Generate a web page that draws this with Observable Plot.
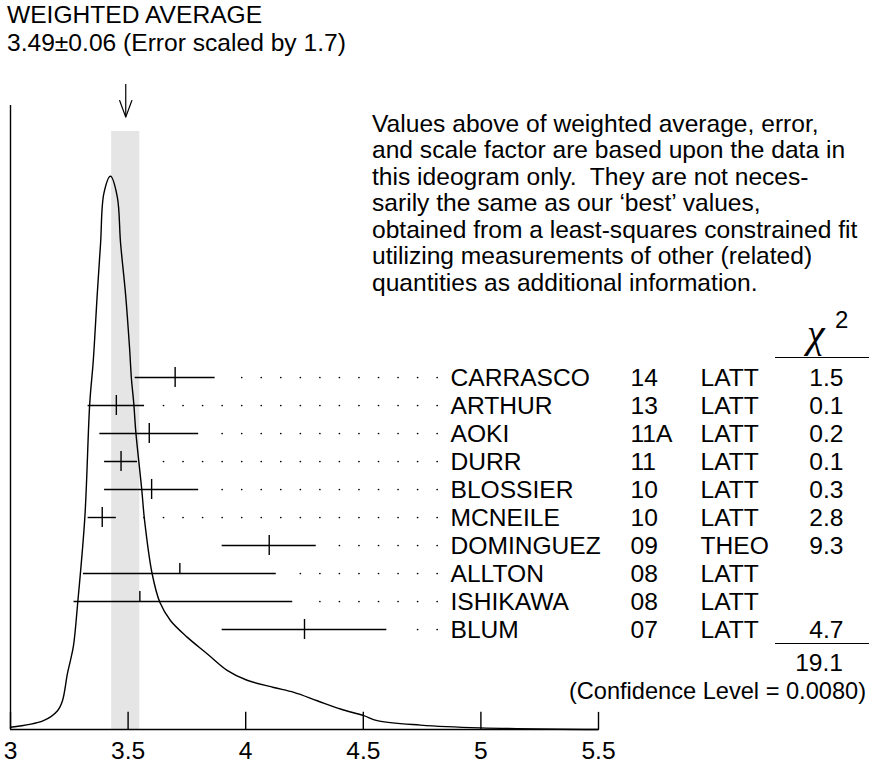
<!DOCTYPE html>
<html><head><meta charset="utf-8">
<script src="https://cdn.jsdelivr.net/npm/d3@7"></script>
<script src="https://cdn.jsdelivr.net/npm/@observablehq/plot@0.6"></script>
<style>
body{margin:0;background:#fff;}
#wrap{position:relative;width:869px;height:768px;font-family:"Liberation Sans",Arial,Helvetica,sans-serif;color:#000;overflow:hidden;}
#wrap svg{position:absolute;left:0;top:0;}
.t{position:absolute;font-size:24.6px;white-space:pre;}
.hl{position:absolute;height:0;border-top:1.4px solid #000;}
</style></head><body><div id="wrap"></div>
<script>
// ---- data ----
const names  = ["CARRASCO","ARTHUR","AOKI","DURR","BLOSSIER","MCNEILE","DOMINGUEZ","ALLTON","ISHIKAWA","BLUM"];
const years  = ["14","13","11A","11","10","10","09","08","08","07"];
const types  = ["LATT","LATT","LATT","LATT","LATT","LATT","THEO","LATT","LATT","LATT"];
const values = [3.70, 3.45, 3.59, 3.47, 3.60, 3.39, 4.10, 3.72, 3.55, 4.25];
const errLow = [0.17, 0.12, 0.21, 0.07, 0.20, 0.06, 0.20, 0.41, 0.28, 0.35];
const errHigh= [0.17, 0.12, 0.21, 0.07, 0.20, 0.06, 0.20, 0.41, 0.65, 0.35];
const chi2   = [1.5, 0.1, 0.2, 0.1, 0.3, 2.8, 9.3, null, null, 4.7];
const chi2Total = "19.1";
const confidenceLevel = "0.0080";
const weightedAvg = 3.49, weightedErr = 0.06, errorScale = 1.7;
// ideogram curve (x value, relative height)
const curveX = [3.000,3.140,3.200,3.221,3.242,3.255,3.268,3.286,3.316,3.337,3.352,3.369,3.383,3.397,3.425,
                3.454,3.468,3.489,3.506,3.514,3.524,3.533,3.558,3.570,3.602,3.635,3.680,3.751,3.836,3.921,
                4.006,4.119,4.205,4.304,4.403,4.502,4.559,4.743,4.998,5.500];
const curveY = [0.004,0.016,0.034,0.052,0.101,0.125,0.152,0.230,0.383,0.590,0.667,0.788,0.879,0.969,1.000,
                0.963,0.879,0.788,0.691,0.635,0.590,0.537,0.434,0.378,0.282,0.230,0.197,0.167,0.137,0.107,
                0.089,0.076,0.067,0.052,0.037,0.025,0.016,0.008,0.003,0.000];
const xTicks = [3, 3.5, 4, 4.5, 5, 5.5];

// ---- layout ----
const W = 869, H = 768;
const FONT = '"Liberation Sans", Arial, Helvetica, sans-serif';
const FS = 24.6;
const wrap = document.getElementById("wrap");

const curve = curveX.map((x, i) => ({x, y: curveY[i]}));
// arrow geometry (in scale units of the plot below)
const arrowTop = 1.166, arrowTip = 1.107, headLen = 0.030, headHalf = 0.026;

const p1 = Plot.plot({
  width: W, height: H,
  marginLeft: 10, marginRight: 271, marginTop: 105, marginBottom: 39,
  x: {domain: [3, 5.5]},
  y: {domain: [0, 1.128], axis: null},
  style: {fontFamily: FONT, fontSize: FS + "px", color: "#000", background: "transparent"},
  marks: [
    Plot.rect([{x1: weightedAvg - weightedErr, x2: weightedAvg + weightedErr}],
      {x1: "x1", x2: "x2", y1: 0, y2: 1.081, fill: "#e5e5e5"}),
    Plot.line(curve, {x: "x", y: "y", curve: "catmull-rom", stroke: "#000", strokeWidth: 1.4}),
    Plot.ruleY([0], {stroke: "#000", strokeWidth: 1.4}),
    Plot.ruleX([3], {stroke: "#000", strokeWidth: 1.4}),
    Plot.ruleX(xTicks, {x: d => d, y1: 0, y2: 0.031, stroke: "#000", strokeWidth: 1.4}),
    Plot.axisX({ticks: xTicks, tickSize: 0, tickPadding: 12, tickFormat: d => String(d), fontSize: FS, label: null}),
    // arrow pointing at the weighted average
    Plot.ruleX([weightedAvg], {x: d => d, y1: arrowTop, y2: arrowTip, stroke: "#000", strokeWidth: 1.2}),
    Plot.line([[weightedAvg - headHalf, arrowTip + headLen], [weightedAvg, arrowTip], [weightedAvg + headHalf, arrowTip + headLen]],
      {stroke: "#000", strokeWidth: 1.2})
  ]
});
wrap.appendChild(p1);

// rows
const rows = names.map((name, i) => ({
  name, year: years[i], type: types[i], v: values[i],
  lo: values[i] - errLow[i], hi: values[i] + errHigh[i], chi: chi2[i]
}));
const dotLast = 4.814, dotStep = 0.0831, dotGap = 0.064;
const dots = rows.flatMap(r => {
  const out = [];
  for (let k = 0; dotLast - k * dotStep > r.hi + dotGap; k++) out.push({name: r.name, x: dotLast - k * dotStep});
  return out;
});
const rowStep = 28.22, firstRow = 376;
const p2 = Plot.plot({
  width: W, height: H,
  marginLeft: 10, marginRight: 271, marginTop: 0, marginBottom: 0,
  x: {domain: [3, 5.5], axis: null},
  y: {domain: names, range: [firstRow - rowStep / 2, firstRow + rowStep * (names.length - 0.5)], padding: 0, axis: null},
  style: {fontFamily: FONT, fontSize: FS + "px", color: "#000", background: "transparent"},
  marks: [
    Plot.ruleY(rows, {y: "name", x1: "lo", x2: "hi", stroke: "#000", strokeWidth: 1.4}),
    Plot.tickX(rows.filter(r => r.chi != null), {x: "v", y: "name", insetTop: 4, insetBottom: 4, stroke: "#000", strokeWidth: 1.4}),
    Plot.tickX(rows.filter(r => r.chi == null), {x: "v", y: "name", insetTop: 4, insetBottom: rowStep / 2, stroke: "#000", strokeWidth: 1.4}),
    Plot.dot(dots, {x: "x", y: "name", r: 0.85, fill: "#000", stroke: null}),
    Plot.text(rows, {y: "name", text: "name", frameAnchor: "left", dx: 440, textAnchor: "start", fontSize: FS, dy: 1}),
    Plot.text(rows, {y: "name", text: "year", frameAnchor: "left", dx: 620, textAnchor: "start", fontSize: FS, dy: 1}),
    Plot.text(rows, {y: "name", text: "type", frameAnchor: "left", dx: 690, textAnchor: "start", fontSize: FS, dy: 1}),
    Plot.text(rows.filter(r => r.chi != null), {y: "name", text: d => d.chi.toFixed(1), frameAnchor: "left", dx: 833, textAnchor: "end", fontSize: FS, dy: 1})
  ]
});
wrap.appendChild(p2);

// annotations
function addText(txt, style) {
  const d = document.createElement("div");
  d.className = "t";
  d.textContent = txt;
  Object.assign(d.style, style);
  wrap.appendChild(d);
  return d;
}
addText("WEIGHTED AVERAGE\n" + weightedAvg.toFixed(2) + "\u00B1" + weightedErr.toFixed(2) + " (Error scaled by " + errorScale + ")",
  {left: "7px", top: "1px", lineHeight: "28px"});
addText("Values above of weighted average, error,\nand scale factor are based upon the data in\nthis ideogram only.  They are not neces-\nsarily the same as our \u2018best\u2019 values,\nobtained from a least-squares constrained fit\nutilizing measurements of other (related)\nquantities as additional information.",
  {left: "372px", top: "110.5px", lineHeight: "26.5px"});
addText("\u03C7", {left: "807px", top: "312px", fontSize: "40px", lineHeight: "44px", fontFamily: '"Liberation Serif", serif', fontStyle: "italic"});
addText("2", {left: "835px", top: "306px", fontSize: "24px", lineHeight: "28px"});
const l1 = document.createElement("div"); l1.className = "hl";
Object.assign(l1.style, {left: "775px", top: "357px", width: "94px"}); wrap.appendChild(l1);
const l2 = document.createElement("div"); l2.className = "hl";
Object.assign(l2.style, {left: "775px", top: "643px", width: "94px"}); wrap.appendChild(l2);
addText(chi2Total, {right: "26px", top: "650px", lineHeight: "26px"});
addText("(Confidence Level = " + confidenceLevel + ")", {right: "3px", top: "678px", lineHeight: "26px", fontSize: "23.6px"});
</script></body></html>
